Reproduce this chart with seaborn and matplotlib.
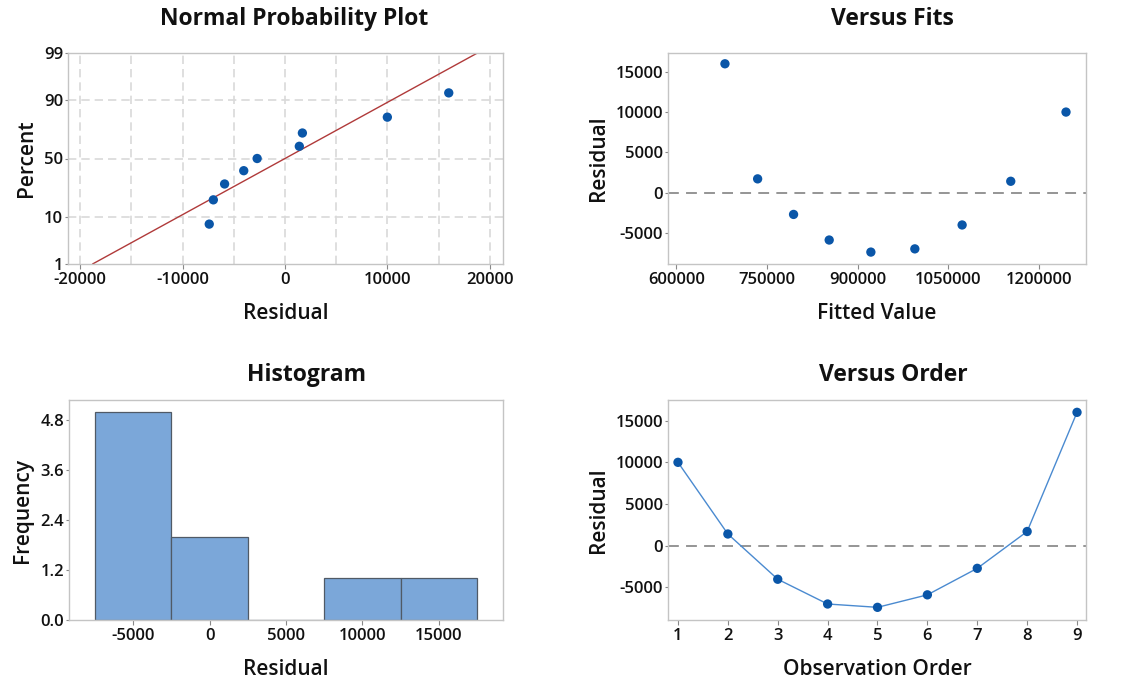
import numpy as np
import pandas as pd
import matplotlib
matplotlib.use("Agg")
import matplotlib.pyplot as plt
import seaborn as sns
from statistics import NormalDist

# ---------------- data ----------------
observation = [1, 2, 3, 4, 5, 6, 7, 8, 9]
residuals = [10000, 1400, -4030, -7000, -7400, -5900, -2720, 1700, 16000]
fitted = [1245200, 1153700, 1073200, 994900, 922100, 853100, 794100, 734600, 680500]
prob_percent = [7.4, 18.1, 28.7, 39.4, 50.0, 60.6, 71.3, 81.9, 92.6]
fit_line_residual = [-18800, 18800]
fit_line_percent = [1, 99]
hist_edges = [-7500, -2500, 2500, 7500, 12500, 17500]

npp_xticks = [-20000, -10000, 0, 10000, 20000]
npp_yticks = [1, 10, 50, 90, 99]
fits_xticks = [600000, 750000, 900000, 1050000, 1200000]
fits_yticks = [-5000, 0, 5000, 10000, 15000]
hist_xticks = [-5000, 0, 5000, 10000, 15000]
hist_yticks = [0.0, 1.2, 2.4, 3.6, 4.8]
order_yticks = [-5000, 0, 5000, 10000, 15000]

df = pd.DataFrame({"order": observation, "resid": residuals, "fit": fitted})
npp = pd.DataFrame({"resid": np.sort(residuals), "pct": prob_percent})
line_df = pd.DataFrame({"resid": fit_line_residual, "pct": fit_line_percent})

# ---------------- style ----------------
sns.set_theme(style="ticks")
plt.rcParams['font.family'] = ['Open Sans', 'DejaVu Sans']
plt.rcParams['axes.unicode_minus'] = False
BLUE = "#0a56a8"
SPINE = "#c4c4c4"
TICKC = "#111111"

W, H = 1121, 681
fig = plt.figure(figsize=(W / 100, H / 100), dpi=100)


def axpos(l, t, r, b):
    return [l / W, 1 - b / H, (r - l) / W, (b - t) / H]


def style(ax, title, xlabel, ylabel, tpad, tx):
    for s in ax.spines.values():
        s.set_color(SPINE)
        s.set_linewidth(1.0)
    ax.tick_params(axis="both", colors="#888888", labelcolor=TICKC,
                   labelsize=12, width=0.8, direction="out")
    ax.tick_params(axis="x", length=3.5, pad=2.5)
    ax.tick_params(axis="y", length=2, pad=1.5)
    for lab in ax.get_xticklabels() + ax.get_yticklabels():
        lab.set_fontweight("semibold")
    ax.set_title(title, fontsize=16.5, fontweight="bold", color="#111111",
                 pad=tpad, x=tx)
    ax.set_xlabel(xlabel, fontsize=15, fontweight="semibold", color="#111111", labelpad=10.5)
    ax.set_ylabel(ylabel, fontsize=15, fontweight="semibold", color="#111111", labelpad=5)


_nd = NormalDist()


def _fwd(p):
    p = np.clip(np.asarray(p, dtype=float), 1e-6, 100 - 1e-6)
    return np.vectorize(lambda v: _nd.inv_cdf(v / 100.0), otypes=[float])(p)


def _inv(z):
    z = np.asarray(z, dtype=float)
    return np.vectorize(lambda v: _nd.cdf(v) * 100.0, otypes=[float])(z)


# ---------------- Normal probability plot ----------------
ax1 = fig.add_axes(axpos(68, 53, 503, 264))
ax1.set_yscale("function", functions=(_fwd, _inv))
ax1.set_xlim(-21200, 21300)
ax1.set_ylim(1, 99)
for gx in range(-20000, 20001, 5000):
    ax1.axvline(gx, color="#d9d9d9", lw=1.2, ls=(0, (5, 3)), zorder=0)
for gy in [10, 50, 90]:
    ax1.axhline(gy, color="#d9d9d9", lw=1.2, ls=(0, (5, 3)), zorder=0)
sns.lineplot(data=line_df, x="resid", y="pct", ax=ax1, color="#b03a3a", lw=1.0,
             legend=False)
sns.scatterplot(data=npp, x="resid", y="pct", ax=ax1, color=BLUE, s=45,
                edgecolor="none", legend=False, zorder=3)
ax1.set_xticks(npp_xticks)
ax1.set_xticklabels([str(v) for v in npp_xticks])
ax1.set_yticks(npp_yticks)
ax1.set_yticklabels([str(v) for v in npp_yticks])
ax1.yaxis.set_minor_locator(matplotlib.ticker.NullLocator())
style(ax1, "Normal Probability Plot", "Residual", "Percent", 20.5, 0.52)

# ---------------- Versus Fits ----------------
ax2 = fig.add_axes(axpos(668, 53, 1086, 264))
ax2.axhline(0, color="#8c8c8c", lw=1.3, ls=(0, (6, 4)), zorder=1)
sns.scatterplot(data=df, x="fit", y="resid", ax=ax2, color=BLUE, s=45,
                edgecolor="none", legend=False, zorder=3)
ax2.set_xlim(586200, 1278300)
ax2.set_ylim(-8880, 17340)
ax2.set_xticks(fits_xticks)
ax2.set_xticklabels([str(v) for v in fits_xticks])
ax2.set_yticks(fits_yticks)
ax2.set_yticklabels([str(v) for v in fits_yticks])
style(ax2, "Versus Fits", "Fitted Value", "Residual", 20.5, 0.538)

# ---------------- Histogram ----------------
ax3 = fig.add_axes(axpos(69, 400, 503, 620))
sns.histplot(data=df, x="resid", bins=hist_edges, ax=ax3, color="#7ba7d9",
             edgecolor="#505a66", linewidth=0.9, alpha=1.0)
ax3.set_xlim(-9200, 19200)
ax3.set_ylim(0, 5.28)
ax3.set_xticks(hist_xticks)
ax3.set_xticklabels([str(v) for v in hist_xticks])
ax3.set_yticks(hist_yticks)
ax3.set_yticklabels([f"{v:.1f}" for v in hist_yticks])
style(ax3, "Histogram", "Residual", "Frequency", 14, 0.548)

# ---------------- Versus Order ----------------
ax4 = fig.add_axes(axpos(668, 400, 1086, 620))
ax4.axhline(0, color="#8c8c8c", lw=1.3, ls=(0, (6, 4)), zorder=1)
sns.lineplot(data=df, x="order", y="resid", ax=ax4, color="#4a8ad0", lw=1.0,
             legend=False, zorder=2)
sns.scatterplot(data=df, x="order", y="resid", ax=ax4, color=BLUE, s=45,
                edgecolor="none", legend=False, zorder=3)
ax4.set_xlim(0.8, 9.18)
ax4.set_ylim(-8920, 17480)
ax4.set_xticks(observation)
ax4.set_yticks(order_yticks)
ax4.set_yticklabels([str(v) for v in order_yticks])
style(ax4, "Versus Order", "Observation Order", "Residual", 14, 0.538)

fig.savefig("out.png", dpi=100, facecolor="white")
